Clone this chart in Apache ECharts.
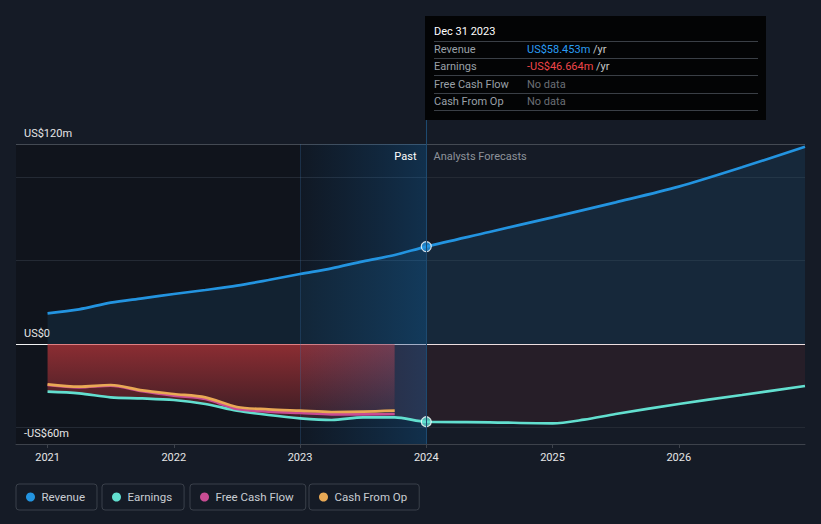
<!DOCTYPE html>
<html><head><meta charset="utf-8">
<script src="https://cdn.jsdelivr.net/npm/echarts@6/dist/echarts.min.js"></script>
<style>html,body{margin:0;padding:0;background:#151b26;}#c{width:821px;height:524px;}</style>
</head><body><div id="c"></div>
<script>
// ---- data ----
const revenueYears = [2021, 2021.25, 2021.5, 2021.75, 2022, 2022.25, 2022.5, 2022.75, 2023, 2023.25, 2023.5, 2023.75, 2024, 2024.5, 2025, 2025.5, 2026, 2026.5, 2027];
const revenue      = [18.4, 20.8, 24.8, 27.4, 30.0, 32.4, 35.0, 38.4, 42.0, 45.4, 49.6, 53.4, 58.453, 67.2, 76.0, 85.0, 94.4, 106.0, 118.4];
const earningsYears = [2021, 2021.25, 2021.5, 2021.75, 2022, 2022.25, 2022.5, 2022.75, 2023, 2023.25, 2023.5, 2023.75, 2024, 2024.5, 2025, 2025.25, 2025.5, 2026, 2026.5, 2027];
const earnings      = [-28.6, -29.6, -32.0, -32.6, -33.6, -36.0, -40.0, -42.6, -44.6, -45.6, -44.0, -44.0, -46.664, -47.0, -47.6, -45.4, -42.0, -36.0, -30.6, -25.2];
const cashYears    = [2021, 2021.25, 2021.5, 2021.75, 2022, 2022.25, 2022.5, 2022.75, 2023, 2023.25, 2023.5, 2023.75];
const freeCashFlow = [-24.6, -26.0, -25.0, -28.4, -31.0, -33.0, -39.0, -40.6, -41.4, -42.2, -42.2, -42.0];
const cashFromOp   = [-24.2, -25.6, -24.6, -27.8, -30.0, -32.0, -37.8, -39.2, -40.0, -40.8, -40.6, -40.0];
const xTickYears   = [2021, 2022, 2023, 2024, 2025, 2026];
const yTickValues  = [-60, 0, 120];
const yTickLabels  = ['-US$60m', 'US$0', 'US$120m'];
const yGridValues  = [-50, 50, 100];
const xRange       = [2020.75, 2027];
const yRange       = [-60, 120];
const bandStart    = 2023;
const forecastStart = 2024;
const tooltipDate  = 'Dec 31 2023';
const seriesNames  = ['Revenue', 'Earnings', 'Free Cash Flow', 'Cash From Op'];
const seriesColors = ['#2394e0', '#62dfcf', '#c84c93', '#e9a955'];

// ---- helpers ----
const pairs = (xs, ys) => xs.map((x, i) => [x, ys[i]]);
const FONT = 'Roboto, "Noto Sans", sans-serif';
const cashEnd = cashYears[cashYears.length - 1];
const eIdxCashEnd = earningsYears.indexOf(cashEnd);
const eIdxF = earningsYears.indexOf(forecastStart);
const rIdxF = revenueYears.indexOf(forecastStart);
const earnPairs = pairs(earningsYears, earnings);
const fmt = v => (v < 0 ? '-' : '') + 'US$' + Math.abs(v).toFixed(3) + 'm';

const chart = echarts.init(document.getElementById('c'), null, {renderer: 'svg'});

const option = {
  backgroundColor: '#151b26',
  animation: false,
  textStyle: {fontFamily: FONT},
  grid: {left: 16, right: 16, top: 144, bottom: 80},
  xAxis: {
    type: 'value', min: xRange[0], max: xRange[1],
    axisLine: {onZero: false, lineStyle: {color: '#3d424b', width: 1}},
    axisTick: {show: true, length: 4, customValues: xTickYears, lineStyle: {color: '#3d424b'}},
    axisLabel: {customValues: xTickYears, color: '#e6e6e6', fontSize: 11, margin: 8, fontFamily: FONT, formatter: v => String(v)},
    splitLine: {show: false}
  },
  yAxis: {
    type: 'value', min: yRange[0], max: yRange[1], interval: 60,
    axisLine: {show: false}, axisTick: {show: false},
    splitLine: {show: false},
    axisLabel: {
      inside: true, margin: 8, verticalAlign: 'bottom', padding: [0, 0, 5, 0],
      color: '#e6e6e6', fontSize: 11, fontFamily: FONT,
      formatter: v => { const i = yTickValues.indexOf(v); return i >= 0 ? yTickLabels[i] : ''; }
    }
  },
  legend: seriesNames.map((n, i) => ({
    data: [n], top: 484, left: [16, 102, 190, 309][i],
    icon: 'circle', itemWidth: 12, itemHeight: 9, itemGap: 0,
    borderColor: '#3a404a', borderWidth: 1, borderRadius: 3,
    padding: [7, 12, 7, 10],
    textStyle: {color: '#c9cdd3', fontSize: 11.5, fontFamily: FONT},
    selectedMode: false
  })),
  series: [
    { // background regions and grid lines
      type: 'line', name: 'bg', data: [], silent: true, z: 0,
      markArea: {
        silent: true, z: 0,
        data: [[{xAxis: xRange[0], itemStyle: {color: 'rgba(8,10,14,0.38)'}}, {xAxis: forecastStart}]]
      },
      markLine: {
        silent: true, z: 1, symbol: 'none', label: {show: false},
        data: [
          ...yGridValues.map(v => ({yAxis: v, lineStyle: {color: '#242a34', width: 1, type: 'solid'}})),
          {yAxis: 0, lineStyle: {color: '#f2f2f2', width: 1, type: 'solid'}},
          {yAxis: yRange[1], lineStyle: {color: '#444a53', width: 1, type: 'solid'}}
        ]
      }
    },
    { // revenue area
      type: 'line', name: 'revFill', data: pairs(revenueYears, revenue), smooth: 0.3, symbol: 'none', z: 2, silent: true,
      lineStyle: {width: 0, opacity: 0},
      areaStyle: {color: 'rgba(35,148,224,0.16)'}
    },
    { // earnings fill (past, with cash flow data)
      type: 'line', name: 'earnFillA', data: earnPairs.slice(0, eIdxCashEnd + 1), smooth: 0.3, symbol: 'none', z: 2, silent: true,
      lineStyle: {width: 0, opacity: 0},
      areaStyle: {color: new echarts.graphic.LinearGradient(0, 0, 0, 1, [
        {offset: 0, color: 'rgba(212,60,64,0.90)'}, {offset: 1, color: 'rgba(212,60,64,0.30)'}])}
    },
    {
      type: 'line', name: 'earnFillB', data: earnPairs.slice(eIdxCashEnd, eIdxF + 1), smooth: 0.3, symbol: 'none', z: 2, silent: true,
      lineStyle: {width: 0, opacity: 0},
      areaStyle: {color: 'rgba(130,60,80,0.38)'}
    },
    {
      type: 'line', name: 'earnFillC', data: earnPairs.slice(eIdxF), smooth: 0.3, symbol: 'none', z: 2, silent: true,
      lineStyle: {width: 0, opacity: 0},
      areaStyle: {color: 'rgba(190,60,70,0.15)'}
    },
    { // hover band
      type: 'line', name: 'band', data: [], silent: true, z: 3,
      markArea: {
        silent: true, z: 3,
        data: [[{xAxis: bandStart, itemStyle: {color: new echarts.graphic.LinearGradient(0, 0, 1, 0, [
          {offset: 0, color: 'rgba(20,110,190,0.05)'}, {offset: 1, color: 'rgba(20,120,200,0.28)'}])}}, {xAxis: forecastStart}]]
      },
      markLine: {
        silent: true, z: 3, symbol: 'none', label: {show: false},
        data: [{xAxis: bandStart, lineStyle: {color: 'rgba(60,120,180,0.25)', width: 1, type: 'solid'}}]
      }
    },
    {type: 'line', name: 'Earnings', data: earnPairs, smooth: 0.3, symbol: 'none', z: 4,
     color: seriesColors[1], lineStyle: {width: 2.7, color: seriesColors[1]}},
    {type: 'line', name: 'Free Cash Flow', data: pairs(cashYears, freeCashFlow), smooth: 0.3, symbol: 'none', z: 4,
     color: seriesColors[2], lineStyle: {width: 2.6, color: seriesColors[2]}},
    {type: 'line', name: 'Cash From Op', data: pairs(cashYears, cashFromOp), smooth: 0.3, symbol: 'none', z: 4,
     color: seriesColors[3], lineStyle: {width: 2.7, color: seriesColors[3]}},
    {type: 'line', name: 'Revenue', data: pairs(revenueYears, revenue), smooth: 0.3, symbol: 'none', z: 4,
     color: seriesColors[0], lineStyle: {width: 2.7, color: seriesColors[0]}},
    {type: 'scatter', name: 'hover', z: 6, symbolSize: 10, silent: true,
     data: [
       {value: [revenueYears[rIdxF], revenue[rIdxF]], itemStyle: {color: seriesColors[0], borderColor: '#ffffff', borderWidth: 1.2}},
       {value: [earningsYears[eIdxF], earnings[eIdxF]], itemStyle: {color: seriesColors[1], borderColor: '#ffffff', borderWidth: 1.2}}
     ]}
  ]
};
chart.setOption(option);

// ---- tooltip-like box and labels ----
const px = chart.convertToPixel({gridIndex: 0}, [forecastStart, yRange[1]]);
const pxBottom = chart.convertToPixel({gridIndex: 0}, [forecastStart, yRange[0]]);
const fx = Math.round(px[0]) + 0.5;
const boxL = fx - 1.5, boxT = 16, boxW = 341, boxH = 104;
const rowLabels = seriesNames;
const rowValues = [
  {text: '{v|' + fmt(revenue[rIdxF]) + '} {u|/yr}', color: '#2a9df4'},
  {text: '{v|' + fmt(earnings[eIdxF]) + '} {u|/yr}', color: '#f0464a'},
  {text: '{n|No data}'},
  {text: '{n|No data}'}
];
const rowY = [49, 66, 84, 101];
const sepY = [41.5, 58.5, 75.5, 93.5, 110.5];
const els = [
  {type: 'line', silent: true, z: 50, shape: {x1: fx, y1: boxT + boxH, x2: fx, y2: pxBottom[1]}, style: {stroke: '#1d4a70', lineWidth: 1}},
  {type: 'rect', silent: true, z: 50, shape: {x: boxL, y: boxT, width: boxW, height: boxH}, style: {fill: '#030405'}},
  {type: 'text', silent: true, z: 51, x: boxL + 9, y: 31, style: {text: tooltipDate, fill: '#ffffff', font: '11px ' + FONT, verticalAlign: 'middle', textVerticalAlign: 'middle'}},
  {type: 'text', silent: true, z: 51, x: fx - 10, y: 156, style: {text: 'Past', fill: '#ffffff', font: '11px ' + FONT, align: 'right', textAlign: 'right', verticalAlign: 'middle', textVerticalAlign: 'middle'}},
  {type: 'text', silent: true, z: 51, x: fx + 7, y: 156, style: {text: 'Analysts Forecasts', fill: '#8e939b', font: '11px ' + FONT, verticalAlign: 'middle', textVerticalAlign: 'middle'}}
];
sepY.forEach(y => els.push({type: 'line', silent: true, z: 51, shape: {x1: boxL + 9, y1: y, x2: boxL + boxW - 8, y2: y}, style: {stroke: '#3a3f46', lineWidth: 1}}));
rowLabels.forEach((l, i) => {
  els.push({type: 'text', silent: true, z: 51, x: boxL + 9, y: rowY[i], style: {text: l, fill: '#9aa0a8', font: '11px ' + FONT, verticalAlign: 'middle', textVerticalAlign: 'middle'}});
  els.push({type: 'text', silent: true, z: 51, x: boxL + 102, y: rowY[i], style: {
    text: rowValues[i].text, font: '11px ' + FONT, verticalAlign: 'middle', textVerticalAlign: 'middle',
    rich: {
      v: {fill: rowValues[i].color || '#fff', font: '11px ' + FONT, fontSize: 11, fontFamily: FONT},
      u: {fill: '#c8c8c8', font: '11px ' + FONT, fontSize: 11, fontFamily: FONT},
      n: {fill: '#6b6f76', font: '11px ' + FONT, fontSize: 11, fontFamily: FONT}
    }}});
});
chart.setOption({graphic: {elements: els}});
</script>
</body></html>
